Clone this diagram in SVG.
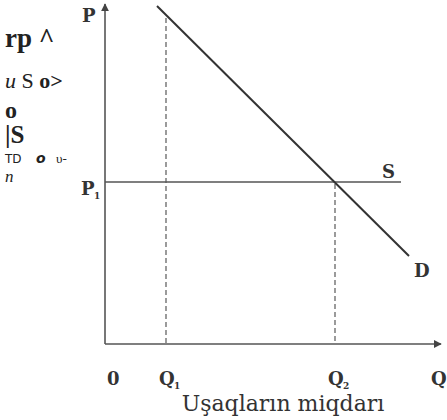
<svg xmlns="http://www.w3.org/2000/svg" width="447" height="420" viewBox="0 0 447 420">
<style>
.ax{stroke:#555;stroke-width:1.6;fill:none}
.ln{stroke:#333;stroke-width:2;fill:none}
.hl{stroke:#555;stroke-width:1.4;fill:none}
.ds{stroke:#666;stroke-width:1.3;stroke-dasharray:5,3;fill:none}
.lb{font-family:"DejaVu Serif","Liberation Serif",serif;fill:#333;font-weight:bold;font-size:18px}
.sub{font-family:"DejaVu Serif",serif;fill:#333;font-size:9px;font-weight:bold}
.tt{font-family:"Liberation Serif","Times New Roman",serif;fill:#222}
</style>
<defs>
<marker id="ar" viewBox="0 0 10 10" refX="9" refY="5" markerWidth="8" markerHeight="8" orient="auto" markerUnits="userSpaceOnUse">
<path d="M0,0 L10,5 L0,10 z" fill="#444"/>
</marker>
</defs>
<rect width="447" height="420" fill="#fff"/>
<g id="stray" class="tt">
<text x="5" y="47" font-size="27" font-weight="bold">rp ^</text>
<text x="5" y="88" font-size="22"><tspan font-style="italic">u</tspan> S <tspan font-weight="bold">o&gt;</tspan></text>
<text x="5" y="118" font-size="24" font-weight="bold">o</text>
<text x="5" y="143" font-size="25" font-weight="bold">|S</text>
<text x="5" y="163" font-size="12" font-family="DejaVu Sans,sans-serif">TD</text>
<text x="36" y="163" font-size="14" font-family="DejaVu Sans,sans-serif" font-weight="bold" font-style="italic">o</text>
<text x="56" y="163" font-size="13">υ-</text>
<text x="5" y="182" font-size="17" font-style="italic">n</text>
</g>
<g id="connectors">
<line class="ax" x1="105" y1="344" x2="105" y2="4" marker-end="url(#ar)"/>
<line class="ax" x1="105" y1="344" x2="441" y2="344" marker-end="url(#ar)"/>
<line class="ds" x1="166" y1="18" x2="166" y2="344"/>
<line class="ds" x1="335" y1="184" x2="335" y2="344"/>
</g>
<g id="supply">
<line class="hl" x1="105" y1="182" x2="401" y2="182"/>
<text class="lb" x="382" y="178">S</text>
</g>
<g id="demand">
<line class="ln" x1="157" y1="6" x2="409" y2="256"/>
<text class="lb" x="414" y="277">D</text>
</g>
<g id="labels">
<text class="lb" x="82" y="22">P</text>
<text class="lb" x="81" y="195">P</text><text class="sub" x="94" y="199">1</text>
<text class="lb" x="107" y="385">0</text>
<text class="lb" x="159" y="385">Q</text><text class="sub" x="174" y="389">1</text>
<text class="lb" x="328" y="385">Q</text><text class="sub" x="343" y="389">2</text>
<text class="lb" x="431" y="385">Q</text>
<text x="283" y="411" font-family="DejaVu Serif,serif" font-size="22" text-anchor="middle" fill="#333">Uşaqların miqdarı</text>
</g>
</svg>
